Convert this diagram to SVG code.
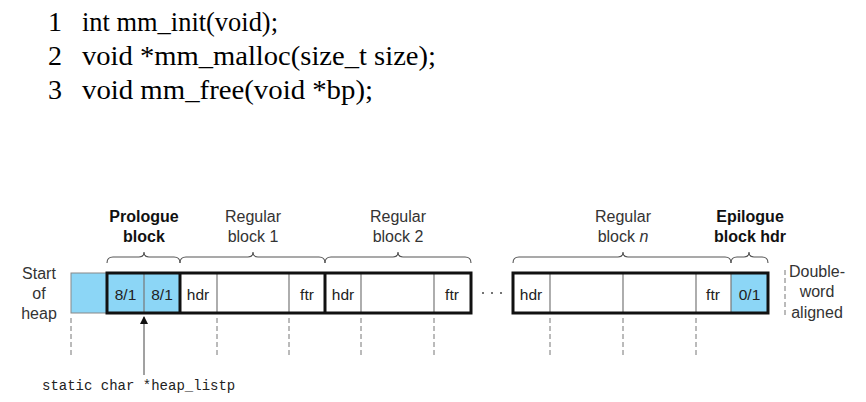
<svg xmlns="http://www.w3.org/2000/svg" width="866" height="402" viewBox="0 0 866 402">
<style>
.code{font-family:"Liberation Serif","Times New Roman",serif;font-size:28px;fill:#000}
.lbl{font-family:"Liberation Sans",Arial,sans-serif;font-size:16px;fill:#333;text-anchor:middle}
.bold{font-weight:bold;fill:#111}
.cell{font-family:"Liberation Sans",Arial,sans-serif;font-size:15.5px;fill:#222;text-anchor:middle}
.mono{font-family:"Liberation Mono","Courier New",monospace;font-size:14px;fill:#222}
.brace{fill:none;stroke:#555;stroke-width:1.1}
.thin{stroke:#777;stroke-width:1.2;fill:none}
.thick{stroke:#111;stroke-width:3;fill:none}
.dash{stroke:#777;stroke-width:1;stroke-dasharray:5,3;fill:none}
.blue{fill:#8CD6F6}
</style>
<defs>
<marker id="ah" markerWidth="8" markerHeight="10" refX="7" refY="4" orient="auto" markerUnits="userSpaceOnUse">
<path d="M0,0 L8,4 L0,8 Z" fill="#111"/>
</marker>
</defs>
<g id="code">
<text class="code" x="48" y="31">1</text><text class="code" x="82" y="31" textLength="196" lengthAdjust="spacingAndGlyphs">int mm_init(void);</text>
<text class="code" x="48" y="65">2</text><text class="code" x="82" y="65" textLength="354" lengthAdjust="spacingAndGlyphs">void *mm_malloc(size_t size);</text>
<text class="code" x="48" y="99">3</text><text class="code" x="82" y="99" textLength="291" lengthAdjust="spacingAndGlyphs">void mm_free(void *bp);</text>
</g>
<g id="start-label">
<text class="lbl" x="39" y="279">Start</text>
<text class="lbl" x="39" y="299">of</text>
<text class="lbl" x="39" y="319">heap</text>
</g>
<g id="pad">
<rect class="blue" x="71" y="273" width="36" height="40" stroke="#888" stroke-width="1"/>
</g>
<g id="prologue">
<rect class="blue" x="107" y="273" width="73" height="40"/>
<line class="thin" x1="144" y1="273" x2="144" y2="313"/>
<text class="cell" x="125.5" y="300">8/1</text>
<text class="cell" x="162" y="300">8/1</text>
<path class="brace" d="M107,263 q0,-6 6,-6 H139 q5,0 5,-5 q0,5 5,5 H174 q6,0 6,6"/>
<text class="lbl bold" x="144" y="222">Prologue</text>
<text class="lbl bold" x="144" y="242">block</text>
</g>
<g id="block1">
<line class="thin" x1="217" y1="273" x2="217" y2="313"/>
<line class="thin" x1="289" y1="273" x2="289" y2="313"/>
<text class="cell" x="198" y="300">hdr</text>
<text class="cell" x="307" y="300">ftr</text>
<path class="brace" d="M180,263 q0,-6 6,-6 H248 q5,0 5,-5 q0,5 5,5 H319 q6,0 6,6"/>
<text class="lbl" x="253" y="222">Regular</text>
<text class="lbl" x="253" y="242">block 1</text>
</g>
<g id="block2">
<line class="thin" x1="361" y1="273" x2="361" y2="313"/>
<line class="thin" x1="434" y1="273" x2="434" y2="313"/>
<text class="cell" x="343" y="300">hdr</text>
<text class="cell" x="452" y="300">ftr</text>
<path class="brace" d="M325,263 q0,-6 6,-6 H393 q5,0 5,-5 q0,5 5,5 H465 q6,0 6,6"/>
<text class="lbl" x="398" y="222">Regular</text>
<text class="lbl" x="398" y="242">block 2</text>
</g>
<g id="outline1">
<rect class="thick" x="107" y="273" width="364" height="40"/>
<line class="thick" x1="180" y1="273" x2="180" y2="313"/>
<line class="thick" x1="325" y1="273" x2="325" y2="313"/>
</g>
<g id="ellipsis">
<circle cx="483" cy="293" r="1" fill="#444"/>
<circle cx="492" cy="293" r="1" fill="#444"/>
<circle cx="501" cy="293" r="1" fill="#444"/>
</g>
<g id="blockn">
<line class="thin" x1="550" y1="273" x2="550" y2="313"/>
<line class="thin" x1="623" y1="273" x2="623" y2="313"/>
<line class="thin" x1="696" y1="273" x2="696" y2="313"/>
<text class="cell" x="531" y="300">hdr</text>
<text class="cell" x="713" y="300">ftr</text>
<path class="brace" d="M513,263 q0,-6 6,-6 H618 q5,0 5,-5 q0,5 5,5 H725 q6,0 6,6"/>
<text class="lbl" x="623" y="222">Regular</text>
<text class="lbl" x="623" y="242">block <tspan font-style="italic">n</tspan></text>
</g>
<g id="epilogue">
<rect class="blue" x="731" y="273" width="37" height="40"/>
<line class="thin" x1="731" y1="273" x2="731" y2="313"/>
<text class="cell" x="749.5" y="300">0/1</text>
<path class="brace" d="M731,263 q0,-6 6,-6 H744 q5,0 5,-5 q0,5 5,5 H762 q6,0 6,6"/>
<text class="lbl bold" x="750" y="222">Epilogue</text>
<text class="lbl bold" x="750" y="242">block hdr</text>
</g>
<g id="outline2">
<rect class="thick" x="513" y="273" width="255" height="40"/>
</g>
<g id="aligned">
<line class="dash" x1="785" y1="270" x2="785" y2="316"/>
<text class="lbl" x="817" y="277">Double-</text>
<text class="lbl" x="817" y="297">word</text>
<text class="lbl" x="817" y="318">aligned</text>
</g>
<g id="connectors">
<line class="dash" x1="71" y1="318" x2="71" y2="358"/>
<line class="dash" x1="217" y1="318" x2="217" y2="358"/>
<line class="dash" x1="289" y1="318" x2="289" y2="358"/>
<line class="dash" x1="361" y1="318" x2="361" y2="358"/>
<line class="dash" x1="434" y1="318" x2="434" y2="358"/>
<line class="dash" x1="550" y1="318" x2="550" y2="358"/>
<line class="dash" x1="623" y1="318" x2="623" y2="358"/>
<line class="dash" x1="696" y1="318" x2="696" y2="358"/>
<line x1="144" y1="375" x2="144" y2="317" stroke="#444" stroke-width="1" marker-end="url(#ah)"/>
</g>
<g id="pointer-label">
<text class="mono" x="42" y="390">static char *heap_listp</text>
</g>
</svg>
